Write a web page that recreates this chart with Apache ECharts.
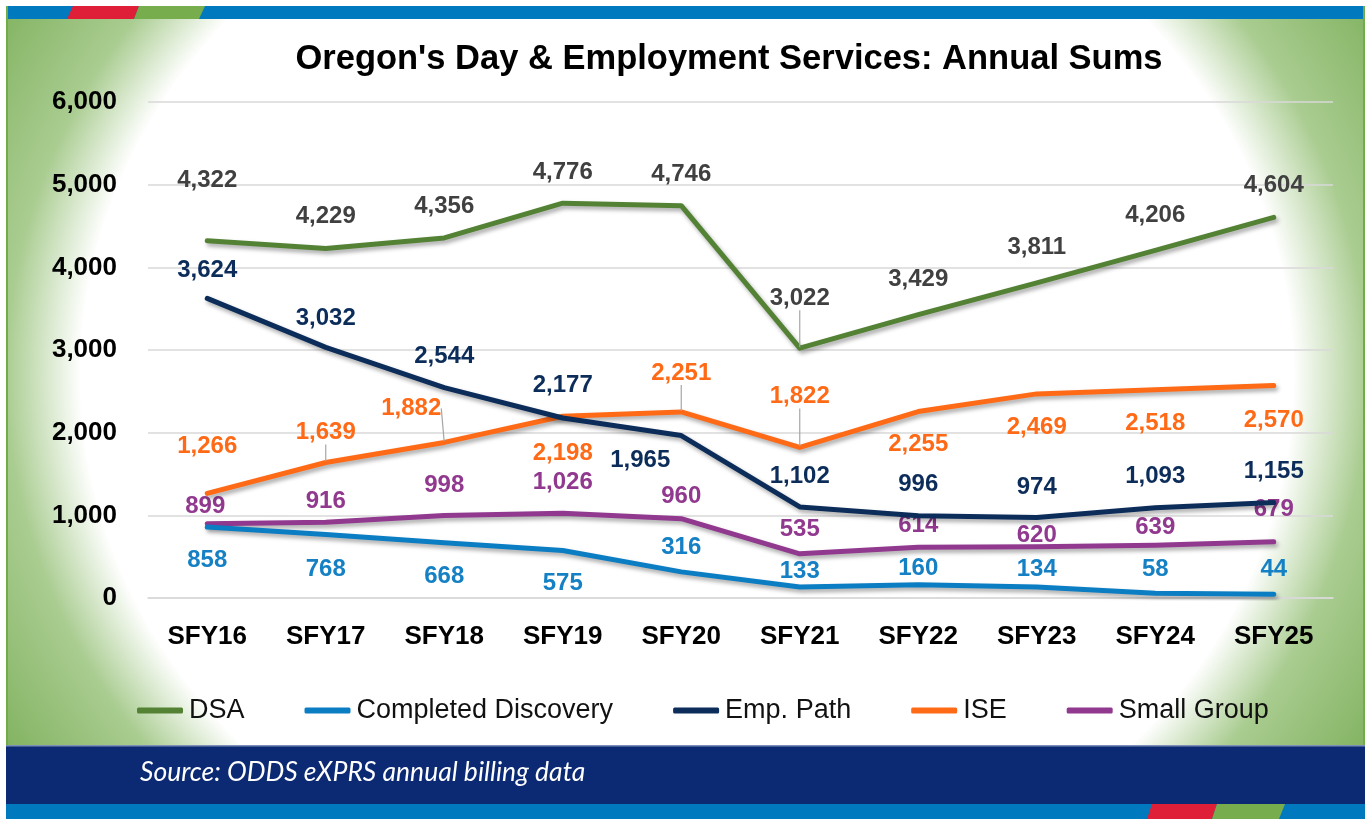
<!DOCTYPE html>
<html>
<head>
<meta charset="utf-8">
<script src="https://cdn.jsdelivr.net/npm/echarts@6/dist/echarts.min.js"></script>
<style>
  html, body { margin: 0; padding: 0; background: #fff; }
  #wrap { position: relative; width: 1367px; height: 821px; overflow: hidden; }
  #bg {
    position: absolute; left: 6px; top: 6px; width: 1355px; height: 739px;
    border-left: 2px solid #70AD47; border-right: 2px solid #70AD47;
    background: radial-gradient(ellipse 625px 560px at 679px 369px, #ffffff 97%, #a9cc90 109%, #84b463 127%);
  }
  #chart { position: absolute; left: 0; top: 0; width: 1367px; height: 821px; }
</style>
</head>
<body>
<div id="wrap">
  <div id="bg"></div>
  <div id="chart"></div>
</div>
<script>
'use strict';

var years = ['SFY16', 'SFY17', 'SFY18', 'SFY19', 'SFY20', 'SFY21', 'SFY22', 'SFY23', 'SFY24', 'SFY25'];
var dsa = [4322, 4229, 4356, 4776, 4746, 3022, 3429, 3811, 4206, 4604];
var completedDiscovery = [858, 768, 668, 575, 316, 133, 160, 134, 58, 44];
var empPath = [3624, 3032, 2544, 2177, 1965, 1102, 996, 974, 1093, 1155];
var ise = [1266, 1639, 1882, 2198, 2251, 1822, 2255, 2469, 2518, 2570];
var smallGroup = [899, 916, 998, 1026, 960, 535, 614, 620, 639, 679];
var yTicks = [0, 1000, 2000, 3000, 4000, 5000, 6000];

var font = "'Liberation Sans', Arial, sans-serif";

// label nudges (px from the point), one row per series
var labelShift = [
  [[0, -60], [0, -32], [0, -32], [0, -31], [0, -31], [0, -50], [0, -35], [0, -36], [0, -35], [0, -32]],
  [[0, 33], [0, 35], [0, 34], [0, 33], [0, -25], [0, -16], [0, -16], [0, -18], [0, -24], [0, -25]],
  [[0, -28], [0, -29], [0, -31], [0, -33], [-41, 25], [0, -31], [0, -31], [0, -30], [0, -31], [0, -31]],
  [[0, -47], [0, -30], [-33, -34], [0, 37], [0, -39], [0, -51], [0, 33], [0, 33], [0, 34], [0, 35]],
  [[-2, -17], [0, -21], [0, -30], [0, -31], [0, -22], [0, -24], [0, -22], [0, -11], [0, -18], [0, -32]]
];
// which labels get a grey leader line
var leaders = {'0-5': true, '3-1': true, '3-2': true, '3-4': true, '3-5': true};

function makeSeries(name, data, idx, lineColor, labelColor) {
  return {
    name: name,
    type: 'line',
    data: data.map(function (v, i) {
      return leaders[idx + '-' + i] ? { value: v, labelLine: { show: true } } : v;
    }),
    symbol: 'circle',
    symbolSize: 2,
    itemStyle: { color: lineColor },
    lineStyle: {
      color: lineColor, width: 5, cap: 'round', join: 'round',
      shadowColor: 'rgba(0,0,0,0.35)', shadowBlur: 4, shadowOffsetX: 2, shadowOffsetY: 3
    },
    label: {
      show: true,
      position: 'inside',
      color: labelColor,
      fontFamily: font,
      fontWeight: 'bold',
      fontSize: 24,
      formatter: function (p) { return p.value.toLocaleString('en-US'); }
    },
    labelLine: { show: false, lineStyle: { color: '#a6a6a6', width: 1.2 } },
    labelLayout: function (p) {
      var s = labelShift[idx][p.dataIndex];
      return { dx: s[0], dy: s[1] };
    },
    emphasis: { disabled: true },
    z: 10 - idx
  };
}

var chart = echarts.init(document.getElementById('chart'), null, { renderer: 'canvas' });

var option = {
  animation: false,
  backgroundColor: 'transparent',
  title: {
    text: "Oregon's Day & Employment Services: Annual Sums",
    left: 724,
    top: 37,
    textAlign: 'center',
    textStyle: { fontFamily: font, fontWeight: 'bold', fontSize: 34.5, color: '#000' }
  },
  legend: {
    left: 132,
    top: 692,
    itemWidth: 46,
    itemHeight: 6,
    itemGap: 60,
    icon: 'roundRect',
    textStyle: { fontFamily: font, fontSize: 27, color: '#111', padding: [0, 0, 0, 1] },
    data: ['DSA', 'Completed Discovery', 'Emp. Path', 'ISE', 'Small Group']
  },
  grid: { left: 148, right: 34, top: 102, bottom: 223 },
  xAxis: {
    type: 'category',
    data: years,
    boundaryGap: true,
    axisLine: { show: true, lineStyle: { color: '#d9d9d9', width: 1.5 } },
    axisTick: { show: false },
    axisLabel: { interval: 0, fontFamily: font, fontWeight: 'bold', fontSize: 26, color: '#000', margin: 26 }
  },
  yAxis: {
    type: 'value',
    min: yTicks[0],
    max: yTicks[yTicks.length - 1],
    interval: 1000,
    axisLine: { show: false },
    axisTick: { show: false },
    splitLine: { lineStyle: { color: '#d9d9d9', width: 1.5 } },
    axisLabel: {
      fontFamily: font, fontWeight: 'bold', fontSize: 26, color: '#000', margin: 31,
      formatter: function (v) { return v.toLocaleString('en-US'); }
    }
  },
  series: [
    makeSeries('DSA', dsa, 0, '#548235', '#404040'),
    makeSeries('Completed Discovery', completedDiscovery, 1, '#0b7dc3', '#1580c4'),
    makeSeries('Emp. Path', empPath, 2, '#0c2d5a', '#0c2d5a'),
    makeSeries('ISE', ise, 3, '#ff6a17', '#ff6a17'),
    makeSeries('Small Group', smallGroup, 4, '#91388f', '#91388f')
  ],
  graphic: [
    // top stripe
    { type: 'rect', shape: { x: 8, y: 6, width: 1355, height: 13 }, style: { fill: '#0079be' }, z: 1 },
    { type: 'polygon', shape: { points: [[73, 6], [139, 6], [134, 19], [67, 19]] }, style: { fill: '#df1f37' }, z: 2 },
    { type: 'polygon', shape: { points: [[139, 6], [205, 6], [199, 19], [134, 19]] }, style: { fill: '#77ad4c' }, z: 2 },
    // footer band
    { type: 'rect', shape: { x: 6, y: 745, width: 1359, height: 59 }, style: { fill: '#0b2a73' }, z: 1 },
    { type: 'rect', shape: { x: 6, y: 745, width: 1359, height: 1.5 }, style: { fill: '#7d8fb8' }, z: 2 },
    { type: 'rect', shape: { x: 6, y: 804, width: 1359, height: 15 }, style: { fill: '#0079be' }, z: 1 },
    { type: 'polygon', shape: { points: [[1152, 804], [1217, 804], [1212, 819], [1147, 819]] }, style: { fill: '#df1f37' }, z: 2 },
    { type: 'polygon', shape: { points: [[1217, 804], [1285, 804], [1279, 819], [1212, 819]] }, style: { fill: '#77ad4c' }, z: 2 },
    {
      type: 'text', left: 140, top: 759, z: 3,
      style: {
        text: 'Source: ODDS eXPRS annual billing data',
        fill: '#ffffff', fontFamily: "Lato, 'Open Sans', sans-serif", fontStyle: 'italic', fontSize: 26.5
      }
    }
  ]
};

chart.setOption(option);
</script>
</body>
</html>
